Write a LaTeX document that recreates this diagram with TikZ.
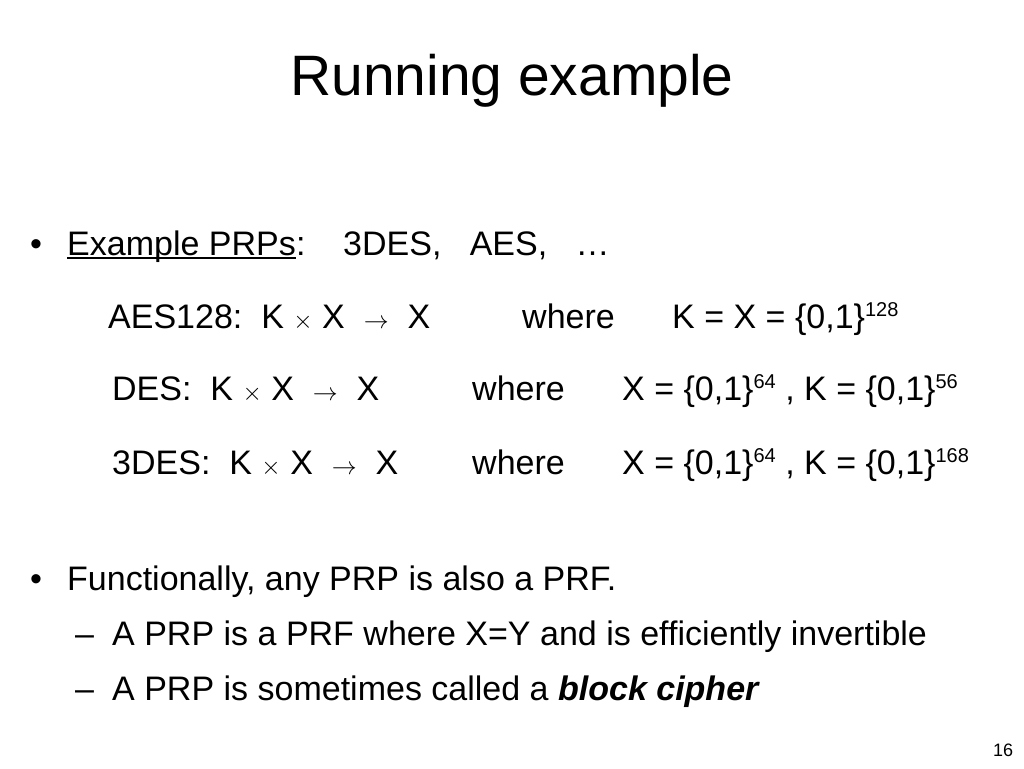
\documentclass[tikz,border=0pt]{standalone}
\usepackage{fontspec}
\setmainfont{Liberation Sans}
\newcommand{\supx}[1]{\raisebox{12pt}{\fontsize{20}{24}\selectfont #1}}
\begin{document}
\begin{tikzpicture}[x=1pt,y=-1pt,
  t/.style={anchor=base west,inner sep=0pt,font=\fontsize{34}{40}\selectfont},
  sm/.style={anchor=base west,inner sep=0pt,font=\fontsize{18}{22}\selectfont}]
\useasboundingbox (0,0) rectangle (1024,768);
\node[anchor=base,inner sep=0pt,font=\fontsize{57}{66}\selectfont] (title) at (512,95) {Running example};
\node[t] (b1) at (30,255) {\textbullet};
\node[t] (l1) at (67,255) {Example PRPs};
\node[t,anchor=base west] (l1c) at (l1.base east) {:};
\draw[line width=1.5pt] ([yshift=-3pt]l1.base west) -- ([yshift=-3pt]l1.base east);
\node[t] (l1b) at (343,255) {3DES,\ \ \ AES,\ \ \ \ldots};
\node[t] (a1) at (108,328) {AES128:\ \ K $\times$ X\ \ $\rightarrow$\ \ X};
\node[t] (a2) at (522,328) {where};
\node[t] (a3) at (672,328) {K = X = \{0,1\}\supx{128}};
\node[t] (d1) at (112,400) {DES:\ \ K $\times$ X\ \ $\rightarrow$\ \ X};
\node[t] (d2) at (472,400) {where};
\node[t] (d3) at (622,400) {X = \{0,1\}\supx{64} ,\ K = \{0,1\}\supx{56}};
\node[t] (e1) at (112,474) {3DES:\ \ K $\times$ X\ \ $\rightarrow$\ \ X};
\node[t] (e2) at (472,474) {where};
\node[t] (e3) at (622,474) {X = \{0,1\}\supx{64} ,\ K = \{0,1\}\supx{168}};
\node[t] (b2) at (30,590) {\textbullet};
\node[t] (f1) at (67,590) {Functionally, any PRP is also a PRF.};
\node[t] (s1d) at (75,645) {--};
\node[t] (s1) at (112,645) {A PRP is a PRF where X=Y and is efficiently invertible};
\node[t] (s2d) at (75,700) {--};
\node[t] (s2) at (112,700) {A PRP is sometimes called a \textbf{\textit{block cipher}}};
\node[sm] (pg) at (993,756) {16};
\end{tikzpicture}
\end{document}
